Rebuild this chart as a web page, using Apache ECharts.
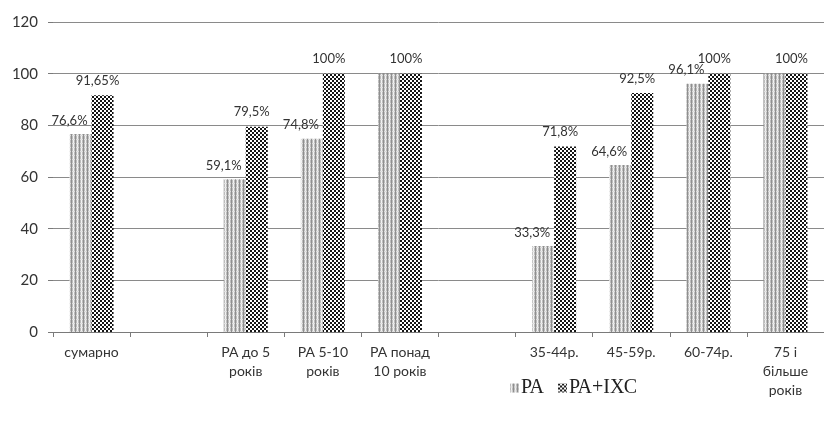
<!DOCTYPE html>
<html>
<head>
<meta charset="utf-8">
<script src="https://cdn.jsdelivr.net/npm/echarts@6/dist/echarts.min.js"></script>
<style>
  html, body { margin: 0; padding: 0; background: #ffffff; }
  #chart { width: 824px; height: 421px; }
</style>
</head>
<body>
<div id="chart"></div>
<script>
// Categories along the x axis (empty entries leave gaps between groups)
const categories = [
  'сумарно', '', 'РА до 5\nроків', 'РА 5-10\nроків', 'РА понад\n10 років',
  '', '35-44р.', '45-59р.', '60-74р.', '75 і\nбільше\nроків'
];
// Series values, percent
const valuesRA = [76.6, null, 59.1, 74.8, 100, null, 33.3, 64.6, 96.1, 100];
const valuesRAIXC = [91.65, null, 79.5, 100, 100, null, 71.8, 92.5, 100, 100];
const seriesNames = ['РА', 'РА+ІХС'];
const yTicks = { min: 0, max: 120, interval: 20 };

// Fill patterns drawn on small tiles
function tile(draw, w, h) {
  const c = document.createElement('canvas');
  c.width = w; c.height = h;
  draw(c.getContext('2d'));
  return { image: c, repeat: 'repeat' };
}
const stripeFill = tile(ctx => {
  ctx.fillStyle = '#bcbcbc'; ctx.fillRect(0, 0, 4, 4);
  ctx.fillStyle = '#f2f2f2'; ctx.fillRect(1, 0, 1, 4);
  ctx.fillStyle = '#dddddd'; ctx.fillRect(0, 3, 4, 1);
  ctx.fillStyle = '#8f8f8f'; ctx.fillRect(3, 0, 1, 4);
}, 4, 4);
const checkFill = tile(ctx => {
  ctx.fillStyle = '#ffffff'; ctx.fillRect(0, 0, 4, 4);
  ctx.fillStyle = '#151515';
  ctx.fillRect(0, 0, 2, 2);
  ctx.fillRect(2, 2, 2, 2);
}, 4, 4);

const fmt = v => v.toString().replace('.', ',') + '%';
const labelFont = { fontFamily: 'Lato, "Open Sans", sans-serif', fontSize: 13, color: '#333' };

const chart = echarts.init(document.getElementById('chart'), null, { renderer: 'canvas' });
chart.setOption({
  animation: false,
  backgroundColor: '#ffffff',
  grid: { left: 53, top: 22, right: -2, bottom: 89, containLabel: false },
  legend: {
    left: 505, top: 373,
    itemWidth: 9, itemHeight: 9, itemGap: 14,
    icon: 'rect',
    textStyle: { fontFamily: '"Liberation Serif", "DejaVu Serif", serif', fontSize: 20, color: '#222', padding: [0, 0, 0, -3] },
    data: seriesNames
  },
  xAxis: {
    type: 'category',
    data: categories,
    boundaryGap: true,
    axisLine: { show: true, lineStyle: { color: '#7a7a7a', width: 1 } },
    axisTick: { show: true, length: 5, lineStyle: { color: '#7a7a7a' } },
    axisLabel: {
      interval: 0, margin: 11, color: '#333',
      fontFamily: 'Lato, "Open Sans", sans-serif', fontSize: 14, lineHeight: 19
    }
  },
  yAxis: {
    type: 'value',
    min: yTicks.min, max: yTicks.max, interval: yTicks.interval,
    axisLine: { show: false },
    axisTick: { show: true, length: 5, lineStyle: { color: '#7a7a7a' } },
    splitLine: { show: true, lineStyle: { color: '#8a8a8a', width: 1 } },
    axisLabel: {
      margin: 15, color: '#333',
      fontFamily: 'Lato, "Open Sans", sans-serif', fontSize: 15
    }
  },
  series: [
    {
      name: seriesNames[0],
      type: 'bar',
      data: valuesRA,
      barWidth: 22,
      barGap: '0%',
      itemStyle: { color: stripeFill },
      label: {
        show: true, position: 'top', distance: 7, offset: [-11, 0],
        formatter: p => (p.value == null || p.value >= 100) ? '' : fmt(p.value),
        ...labelFont
      }
    },
    {
      name: seriesNames[1],
      type: 'bar',
      data: valuesRAIXC,
      barWidth: 22,
      barGap: '0%',
      itemStyle: { color: checkFill },
      label: {
        show: true, position: 'top', distance: 8, offset: [-5, 0],
        formatter: p => p.value == null ? '' : fmt(p.value),
        ...labelFont
      }
    }
  ]
});
</script>
</body>
</html>
